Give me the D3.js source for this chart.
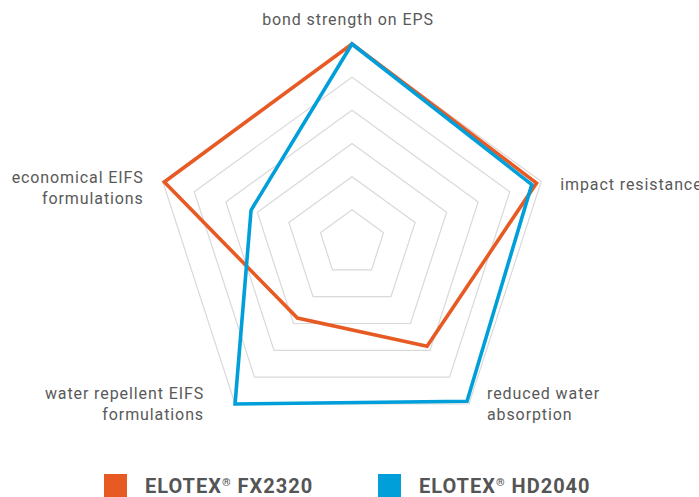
<!DOCTYPE html>
<html>
<head>
<meta charset="utf-8">
<script src="https://cdn.jsdelivr.net/npm/d3@7"></script>
<style>
  html, body { margin: 0; padding: 0; background: #fff; }
  svg { display: block; }
  text { font-family: Roboto, "Noto Sans", sans-serif; }
</style>
</head>
<body>
<svg id="chart" width="699" height="497"></svg>
<script>
// ---- data ----
const axes = [
  ["bond strength on EPS"],
  ["impact resistance"],
  ["reduced water", "absorption"],
  ["water repellent EIFS", "formulations"],
  ["economical EIFS", "formulations"]
];
const seriesNames = ["ELOTEX® FX2320", "ELOTEX® HD2040"];
const fx2320 = [6, 5.85, 3.85, 2.8, 5.95];
const hd2040 = [6, 5.7, 5.9, 6, 3.2];
const levels = [1, 2, 3, 4, 5, 6];
const maxValue = 6;

// ---- layout ----
const svg = d3.select("#chart");
const cx = 352, cy = 243, R = 199;
const colors = ["#E85A24", "#009FDA"];
const r = d3.scaleLinear().domain([0, maxValue]).range([0, R]);
const n = axes.length;
const angle = i => i * 2 * Math.PI / n;

const g = svg.append("g").attr("transform", `translate(${cx},${cy})`);

// grid rings
const ringLine = d3.lineRadial()
  .angle((d, i) => angle(i))
  .radius(d => r(d))
  .curve(d3.curveLinearClosed);

g.append("g").selectAll("path")
  .data(levels)
  .join("path")
  .attr("d", lv => ringLine(axes.map(() => lv)))
  .attr("fill", "none")
  .attr("stroke", "#d9d9d9")
  .attr("stroke-width", 1.2);

// series
const series = [fx2320, hd2040];
g.append("g").selectAll("path")
  .data(series)
  .join("path")
  .attr("d", d => ringLine(d))
  .attr("fill", "none")
  .attr("stroke", (d, i) => colors[i])
  .attr("stroke-width", 3.6)
  .attr("stroke-linejoin", "miter");

// axis labels
const labelCfg = [
  { anchor: "middle", dx: -4, dy: -19 },
  { anchor: "start", dx: 19, dy: 8 },
  { anchor: "start", dx: 18, dy: -5 },
  { anchor: "end", dx: -31, dy: -5 },
  { anchor: "end", dx: -19, dy: 1 }
];
const lineH = 21.5;
axes.forEach((lines, i) => {
  const a = angle(i) - Math.PI / 2;
  const px = Math.cos(a) * r(maxValue) + labelCfg[i].dx;
  const py = Math.sin(a) * r(maxValue) + labelCfg[i].dy;
  const t = g.append("text")
    .attr("x", px).attr("y", py)
    .attr("text-anchor", labelCfg[i].anchor)
    .attr("fill", "#595959")
    .attr("font-size", 16)
    .attr("letter-spacing", 0.9);
  lines.forEach((ln, k) => {
    t.append("tspan").attr("x", px).attr("dy", k === 0 ? 0 : lineH).text(ln);
  });
});

// legend
const legendX = [104, 378];
const leg = svg.append("g");
seriesNames.forEach((name, i) => {
  leg.append("rect")
    .attr("x", legendX[i]).attr("y", 474)
    .attr("width", 23).attr("height", 23)
    .attr("fill", colors[i]);
  const parts = name.split("®");
  const t = leg.append("text")
    .attr("x", legendX[i] + 41).attr("y", 493)
    .attr("fill", "#555")
    .attr("font-size", 20)
    .attr("font-weight", "bold")
    .attr("letter-spacing", 1);
  t.append("tspan").text(parts[0]);
  t.append("tspan").text("®").attr("font-size", 11).attr("dy", -7);
  t.append("tspan").text(parts[1]).attr("dy", 7);
});
</script>
</body>
</html>
